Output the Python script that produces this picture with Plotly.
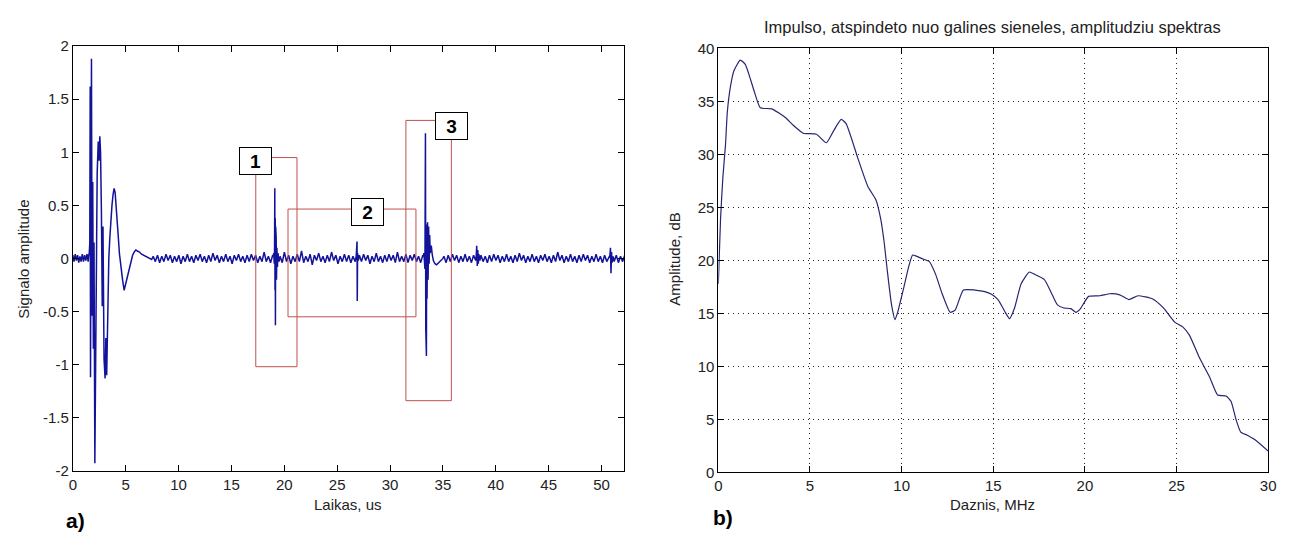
import numpy as np
import plotly.graph_objects as go

# ---------------- data: panel a) signal ----------------
# quiet baseline segments: (start_us, end_us) and sampled noise values
seg0_range = (0.0, 1.45)
seg0_vals = [0.03, -0.03, 0.04, -0.02, 0.03, -0.04, 0.02, -0.03, 0.04, -0.03, 0.03, -0.02, 0.04, -0.03]

pulse_t = [1.50, 1.55, 1.60, 1.64, 1.67, 1.70, 1.76, 1.82, 1.88, 1.94, 2.00, 2.08, 2.18, 2.30, 2.40,
           2.48, 2.55, 2.62, 2.70, 2.78, 2.85, 2.95, 3.05, 3.12, 3.20, 3.28, 3.36, 3.40, 3.50, 3.60,
           3.70, 3.80, 3.90, 4.00, 4.10, 4.20, 4.30, 4.40, 4.55, 4.70, 4.85, 4.95, 5.05, 5.20,
           5.35, 5.50, 5.65, 5.80, 5.95, 6.10, 6.30, 6.50, 6.70, 6.90, 7.10, 7.30, 7.45]
pulse_v = [0.03, 0.05, 0.14, 1.62, -1.12, 0.72, 1.88, -0.54, 0.72, -0.85, 0.15, -1.93, -0.40, 0.80, 1.10,
           0.92, 1.15, 1.00, 0.45, -0.45, 0.30, -0.95, -1.13, -0.75, -1.10, -0.62, -0.30, 0.00, 0.20, 0.38,
           0.50, 0.60, 0.66, 0.62, 0.50, 0.35, 0.20, 0.05, -0.10, -0.20, -0.30, -0.26, -0.22, -0.15,
           -0.08, -0.02, 0.03, 0.06, 0.08, 0.07, 0.06, 0.04, 0.03, 0.02, 0.01, 0.00, -0.01]

seg1_range = (7.6, 18.9)
seg1_vals = [0.02, -0.03, 0.03, -0.04, 0.02, -0.03, 0.04, -0.02, 0.03, -0.04,
             0.02, -0.03, 0.03, -0.05, 0.02, -0.03, 0.04, -0.03, 0.02, -0.04,
             0.03, -0.02, 0.04, -0.03, 0.02, -0.04, 0.03, -0.03, 0.05, -0.02,
             0.03, -0.04, 0.02, -0.03, 0.04, -0.03, 0.02, -0.05, 0.03, -0.02,
             0.04, -0.03, 0.02, -0.04, 0.03, -0.03, 0.04, -0.02, 0.03, -0.04,
             0.02, -0.03, 0.06, -0.03, 0.02, -0.04, 0.03]

echo1_t = [18.95, 19.00, 19.05, 19.08, 19.10, 19.12, 19.14, 19.16, 19.18, 19.20, 19.23, 19.26, 19.30, 19.35, 19.40, 19.50]
echo1_v = [0.02, 0.05, -0.05, 0.10, 0.66, -0.30, 0.38, -0.63, 0.30, -0.33, 0.20, -0.20, 0.10, -0.08, 0.05, -0.03]

seg2_range = (19.6, 26.7)
seg2_vals = [0.02, -0.04, 0.06, -0.03, 0.03, -0.05, 0.02, -0.03, 0.04, -0.03,
             0.07, -0.04, 0.02, -0.03, 0.04, -0.06, 0.03, -0.02, 0.05, -0.03,
             0.02, -0.04, 0.03, -0.03, 0.06, -0.02, 0.03, -0.05, 0.02, -0.03,
             0.04, -0.03, 0.03, -0.04, 0.02, -0.03]

echo2_t = [26.80, 26.88, 26.90, 26.93, 27.00]
echo2_v = [0.02, 0.16, -0.40, 0.05, -0.02]

seg3_range = (27.1, 33.1)
seg3_vals = [0.03, -0.03, 0.04, -0.02, 0.03, -0.05, 0.02, -0.03, 0.05, -0.03,
             0.02, -0.04, 0.03, -0.03, 0.04, -0.02, 0.03, -0.04, 0.06, -0.03,
             0.02, -0.03, 0.04, -0.04, 0.03, -0.02, 0.04, -0.03, 0.02, -0.04, 0.03]

echo3_t = [33.15, 33.20, 33.30, 33.35, 33.38, 33.41, 33.44, 33.47, 33.50, 33.55, 33.60, 33.65, 33.70,
           33.75, 33.80, 33.90, 34.00, 34.10, 34.25, 34.40, 34.60, 34.80, 35.00]
echo3_v = [0.02, 0.05, -0.10, 1.18, -0.66, 0.30, -0.92, 0.32, -0.38, 0.34, -0.20, 0.30, -0.05,
           0.22, 0.05, 0.12, 0.03, -0.02, -0.05, -0.06, -0.04, -0.02, 0.00]

seg4_range = (35.1, 38.1)
seg4_vals = [0.02, -0.04, 0.03, -0.03, 0.04, -0.02, 0.03, -0.04, 0.02, -0.03, 0.04, -0.03, 0.02, -0.04, 0.03, -0.02]

echo4_t = [38.15, 38.20, 38.25, 38.30, 38.35, 38.40, 38.50]
echo4_v = [0.02, 0.12, -0.07, 0.08, -0.05, 0.04, -0.02]

seg5_range = (38.6, 50.7)
seg5_vals = [0.03, -0.03, 0.02, -0.04, 0.03, -0.03, 0.04, -0.02, 0.03, -0.04,
             0.02, -0.03, 0.04, -0.03, 0.02, -0.04, 0.03, -0.03, 0.05, -0.02,
             0.03, -0.04, 0.02, -0.03, 0.04, -0.03, 0.02, -0.04, 0.03, -0.02,
             0.04, -0.03, 0.02, -0.04, 0.03, -0.03, 0.06, -0.02, 0.03, -0.04,
             0.02, -0.03, 0.04, -0.03, 0.02, -0.04, 0.03, -0.03, 0.04, -0.02,
             0.03, -0.04, 0.02, -0.03, 0.04, -0.03, 0.02, -0.04, 0.03, -0.03, 0.02]

echo5_t = [50.80, 50.85, 50.90, 50.95, 51.00, 51.10]
echo5_v = [0.03, 0.10, -0.14, 0.06, -0.04, 0.02]

seg6_range = (51.2, 52.2)
seg6_vals = [-0.03, 0.03, -0.04, 0.02, -0.03, 0.03]

# regions marked on panel a): 1, 2, 3
region_names = ["1", "2", "3"]
region_t0 = [17.3, 20.35, 31.5]
region_t1 = [21.2, 32.45, 35.8]
region_lo = [-1.02, -0.55, -1.34]
region_hi = [0.95, 0.465, 1.30]

# ---------------- data: panel b) spectrum ----------------
freq_mhz = [0, 0.12, 0.25, 0.39, 0.49, 0.66, 0.85, 1.2, 1.47, 1.66, 1.93, 2.29, 2.92, 3.64, 4.09, 4.63,
            5.35, 5.89, 6.25, 6.7, 6.97, 7.6, 8.15, 8.6, 8.86, 9.04, 9.22, 9.45, 9.64, 9.8, 10.1, 10.4,
            10.6, 10.8, 11.2, 11.5, 11.85, 12.2, 12.65, 12.92, 13.37, 14.0, 14.54, 14.9, 15.26, 15.62,
            15.89, 16.16, 16.52, 16.97, 17.24, 17.78, 18.15, 18.5, 18.86, 19.23, 19.5, 19.74, 20.2,
            20.82, 21.36, 21.9, 22.4, 22.9, 23.7, 24.27, 24.9, 25.35, 25.7, 26.25, 26.8, 27.24, 27.7,
            27.97, 28.24, 28.5, 28.86, 29.3, 30.0]
amp_db = [17.8, 23.9, 27.9, 30.9, 34.0, 36.4, 37.9, 38.9, 38.5, 37.6, 36.1, 34.4, 34.3, 33.5, 32.75, 32.0,
          31.9, 31.1, 32.1, 33.3, 32.9, 29.7, 27.0, 25.7, 23.9, 21.8, 19.0, 15.8, 14.4, 15.2, 17.3, 19.5,
          20.5, 20.4, 20.1, 19.9, 18.7, 16.9, 15.1, 15.3, 17.2, 17.2, 17.05, 16.8, 16.3, 15.2,
          14.5, 15.5, 17.8, 18.9, 18.7, 18.2, 17.0, 15.8, 15.5, 15.45, 15.1, 15.4, 16.6,
          16.66, 16.85, 16.75, 16.3, 16.66, 16.36, 15.54, 14.17, 13.7, 12.94, 10.8, 9.0, 7.3, 7.2,
          6.7, 5.0, 3.8, 3.5, 3.05, 2.0]

# ---------------- assemble signal ----------------
def seg(rng, vals):
    return list(np.linspace(rng[0], rng[1], len(vals))), list(vals)

parts = [seg(seg0_range, seg0_vals), (pulse_t, pulse_v), seg(seg1_range, seg1_vals), (echo1_t, echo1_v),
         seg(seg2_range, seg2_vals), (echo2_t, echo2_v), seg(seg3_range, seg3_vals), (echo3_t, echo3_v),
         seg(seg4_range, seg4_vals), (echo4_t, echo4_v), seg(seg5_range, seg5_vals), (echo5_t, echo5_v),
         seg(seg6_range, seg6_vals)]
sig_t, sig_v = [], []
for tt, vv in parts:
    assert len(tt) == len(vv)
    sig_t += list(tt)
    sig_v += list(vv)
assert len(freq_mhz) == len(amp_db)

W, H = 1299, 542
FONT = "Arial, Liberation Sans, Helvetica, sans-serif"

def px_x(p):
    return p / W

def px_y(p):
    return 1 - p / H

fig = go.Figure()
fig.add_trace(go.Scatter(x=sig_t, y=sig_v, mode="lines", line=dict(color="#12129a", width=1.5),
                         xaxis="x", yaxis="y", showlegend=False, hoverinfo="skip"))
fig.add_trace(go.Scatter(x=freq_mhz, y=amp_db, mode="lines",
                         line=dict(color="#262673", width=1.2, shape="spline", smoothing=0.5),
                         xaxis="x2", yaxis="y2", showlegend=False, hoverinfo="skip"))

axis_common = dict(showline=True, linecolor="black", linewidth=1, mirror="ticks", ticks="inside",
                   ticklen=6, tickcolor="black", tickwidth=1, zeroline=False,
                   tickfont=dict(family=FONT, size=15, color="#222"))

fig.update_layout(
    width=W, height=H, margin=dict(l=0, r=0, t=0, b=0),
    paper_bgcolor="white", plot_bgcolor="white",
    xaxis=dict(domain=[px_x(69.5), px_x(626)], range=[0, 52.15], tickvals=list(range(0, 51, 5)),
               showgrid=False, anchor="y", **axis_common),
    yaxis=dict(domain=[px_y(476.7), px_y(38.3)], range=[-2, 2],
               tickvals=[-2, -1.5, -1, -0.5, 0, 0.5, 1, 1.5, 2],
               ticktext=["-2", "-1.5", "-1", "-0.5", "0", "0.5", "1", "1.5", "2"],
               showgrid=False, anchor="x", **axis_common),
    xaxis2=dict(domain=[px_x(721), px_x(1276)], range=[0, 30], tickvals=list(range(0, 31, 5)),
                showgrid=True, gridcolor="#222", gridwidth=1, griddash="1px,4px", anchor="y2", **axis_common),
    yaxis2=dict(domain=[px_y(478.3), px_y(40.7)], range=[0, 40], tickvals=list(range(0, 41, 5)),
                showgrid=True, gridcolor="#222", gridwidth=1, griddash="1px,4px", anchor="x2", **axis_common),
)

# region rectangles
for i in range(len(region_names)):
    fig.add_shape(type="rect", xref="x", yref="y", x0=region_t0[i], x1=region_t1[i],
                  y0=region_lo[i], y1=region_hi[i], line=dict(color="#c0504d", width=1),
                  fillcolor="rgba(0,0,0,0)", layer="above")

# region labels (placed on the rectangles' corners / top edge)
label_pos = [(region_t0[0], 0.92), (27.86, region_hi[1] - 0.025), (region_t1[2], 1.245)]
for name, (lx, ly) in zip(region_names, label_pos):
    fig.add_annotation(x=lx, y=ly, xref="x", yref="y", text="<b>%s</b>" % name, showarrow=False,
                       font=dict(family=FONT, size=19, color="black"), bgcolor="white",
                       bordercolor="black", borderwidth=1, borderpad=1, width=29, height=24,
                       xanchor="center", yanchor="middle")

def txt(x, y, s, size=15, angle=0, bold=False, color="#222"):
    fig.add_annotation(x=px_x(x), y=px_y(y), xref="paper", yref="paper",
                       text=("<b>%s</b>" % s) if bold else s, showarrow=False, textangle=angle,
                       font=dict(family=FONT, size=size, color=color), xanchor="center", yanchor="middle")

txt(347, 512, "Laikas, us")
txt(998, 512, "Daznis, MHz")
txt(20, 258, "Signalo amplitude", angle=-90)
txt(677, 258, "Amplitude, dB", angle=-90)
txt(998, 19, "Impulso, atspindeto nuo galines sieneles, amplitudziu spektras", size=16.5)
txt(72, 528, "a)", size=21, bold=True, color="black")
txt(726, 525, "b)", size=21, bold=True, color="black")

fig.write_html("out.html")
